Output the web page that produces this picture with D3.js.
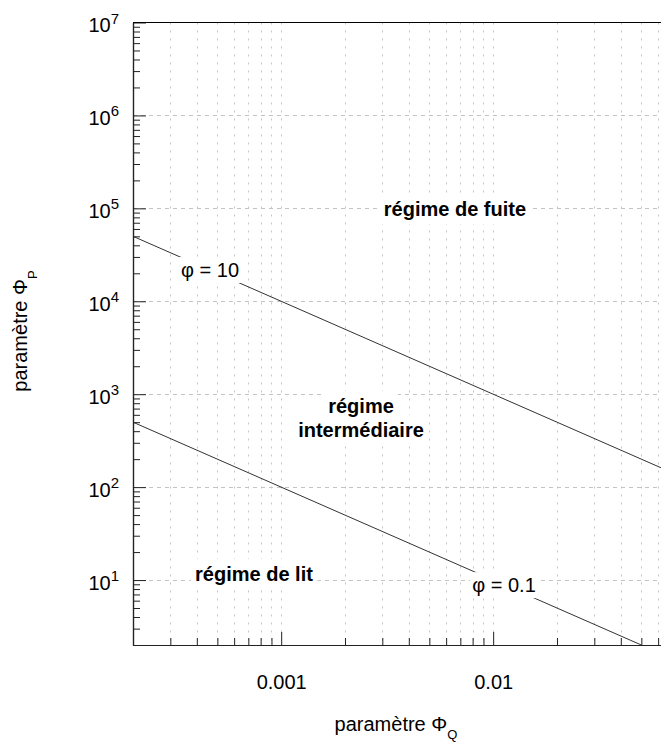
<!DOCTYPE html>
<html><head><meta charset="utf-8">
<script src="https://cdn.jsdelivr.net/npm/d3@7/dist/d3.min.js"></script>
<style>
body{margin:0;background:#fff}
svg{display:block}
text{font-family:"Liberation Sans",Arial,Helvetica,sans-serif;fill:#000}
</style>
</head><body>
<svg id="c" width="661" height="744"></svg>
<script>
// ---- data ----
const lineQ = [0.0002, 0.1];          // Φ_Q end points of the two lines
const phi10P = [50000, 100];          // Φ_P for φ = 10
const phi01P = [500, 1];              // Φ_P for φ = 0.1
const curveNames = ["φ = 10", "φ = 0.1"];
const curveLabelQ = [0.000462, 0.01125];
const curveLabelP = [18220, 7.41];
const xMajorTicks = [0.001, 0.01];
const xTickLabels = ["0.001", "0.01"];
const yMajorTicks = [10, 100, 1e3, 1e4, 1e5, 1e6, 1e7];
const yTickExponents = ["1", "2", "3", "4", "5", "6", "7"];
const regionLines = [["régime de fuite"], ["régime", "intermédiaire"], ["régime de lit"]];
const regionQ = [0.0066, 0.00238, 0.000744];
const regionP = [82600, 626, 9.73];
const xTitle = "paramètre Φ", xSub = "Q";
const yTitle = "paramètre Φ", ySub = "P";

// ---- layout ----
const L = 133, T = 22.5, B = 645, R = 661;
const x = d3.scaleLog().domain([2e-4, 0.0619]).range([L, R]);
const y = d3.scaleLog().domain([2, 1e7]).range([B, T]);
const svg = d3.select("#c");

svg.append("defs").append("clipPath").attr("id", "clip")
  .append("rect").attr("x", L).attr("y", T).attr("width", R - L).attr("height", B - T);

const xAll = x.ticks().filter(v => v > 2.0001e-4 && v <= 0.0619);
const xMinor = xAll.filter(v => !xMajorTicks.some(m => Math.abs(m - v) / m < 1e-6));
const yAll = y.ticks().filter(v => v >= 2 && v <= 1e7);
const yMinor = yAll.filter(v => !yMajorTicks.some(m => Math.abs(m - v) / m < 1e-6));

// grid
const grid = svg.append("g");
grid.selectAll("line.v").data(xAll).join("line")
  .attr("x1", d => Math.round(x(d)) + 0.5).attr("x2", d => Math.round(x(d)) + 0.5)
  .attr("y1", T).attr("y2", B)
  .attr("stroke", "#c4c4c4").attr("stroke-width", 1).attr("stroke-dasharray", "2,6");
grid.selectAll("line.h").data(yMajorTicks.filter(v => v < 1e7)).join("line")
  .attr("x1", L).attr("x2", R)
  .attr("y1", d => Math.round(y(d)) + 0.5).attr("y2", d => Math.round(y(d)) + 0.5)
  .attr("stroke", "#c4c4c4").attr("stroke-width", 1).attr("stroke-dasharray", "4,4");

// curves
const line = d3.line().x(d => x(d[0])).y(d => y(d[1]));
const curves = [phi10P, phi01P].map(p => lineQ.map((q, i) => [q, p[i]]));
svg.append("g").attr("clip-path", "url(#clip)")
  .selectAll("path").data(curves).join("path")
  .attr("d", line).attr("fill", "none").attr("stroke", "#333").attr("stroke-width", 1);

// label helper with white background
function boxedText(g, tx, ty, str, size, weight, pad) {
  const t = g.append("text").attr("x", tx).attr("y", ty).attr("text-anchor", "middle")
    .attr("font-size", size).attr("font-weight", weight).text(str);
  const bb = t.node().getBBox();
  g.insert("rect", "text").attr("x", bb.x - pad).attr("y", bb.y - pad)
    .attr("width", bb.width + 2 * pad).attr("height", bb.height + 2 * pad).attr("fill", "#fff");
  return t;
}

// curve labels
curveNames.forEach((n, i) => {
  const g = svg.append("g");
  boxedText(g, x(curveLabelQ[i]), y(curveLabelP[i]), n, 20, "normal", 2);
});

// region labels
regionLines.forEach((lines, i) => {
  const g = svg.append("g");
  lines.forEach((s, j) => {
    const by = y(regionP[i]) + (lines.length > 1 ? (j === 0 ? 0 : 24) : 0);
    boxedText(g, x(regionQ[i]), by, s, 20, "bold", 4);
  });
});

// axes
const ax = svg.append("g");
ax.append("g").attr("transform", `translate(0,${B})`)
  .call(d3.axisBottom(x).tickValues(xMinor).tickSize(-7).tickSizeOuter(0).tickFormat(""));
ax.append("g").attr("transform", `translate(0,${B})`)
  .call(d3.axisBottom(x).tickValues(xMajorTicks).tickSize(-13).tickSizeOuter(0)
    .tickFormat((d, i) => xTickLabels[i]).tickPadding(30))
  .call(g => g.selectAll("text").attr("font-size", 20).attr("fill", "#000")
    .attr("font-family", "Liberation Sans, Arial, sans-serif"));
ax.append("g").attr("transform", `translate(${L},0)`)
  .call(d3.axisLeft(y).tickValues(yMinor).tickSize(-7).tickSizeOuter(0).tickFormat(""));
ax.append("g").attr("transform", `translate(${L},0)`)
  .call(d3.axisLeft(y).tickValues(yMajorTicks).tickSize(-13).tickSizeOuter(0).tickFormat(""));
ax.selectAll(".domain").attr("stroke", "#222").attr("stroke-width", 1.2);
ax.selectAll(".tick line").attr("stroke", "#222").attr("stroke-width", 1);
// top border
svg.append("line").attr("x1", L).attr("x2", R).attr("y1", T).attr("y2", T)
  .attr("stroke", "#000").attr("stroke-width", 1.2);

// y tick labels (10^n)
yMajorTicks.forEach((v, i) => {
  const t = svg.append("text").attr("x", 88.5).attr("y", y(v) + 9.5).attr("font-size", 20);
  t.append("tspan").text("10");
  t.append("tspan").attr("font-size", 15).attr("dy", -8.5).text(yTickExponents[i]);
});

// axis titles
const xt = svg.append("text").attr("x", 396).attr("y", 731).attr("text-anchor", "middle").attr("font-size", 20);
xt.append("tspan").text(xTitle);
xt.append("tspan").attr("font-size", 13).attr("dy", 8).text(xSub);

const yt = svg.append("text").attr("transform", "translate(27,331) rotate(-90)")
  .attr("text-anchor", "middle").attr("font-size", 20);
yt.append("tspan").text(yTitle);
yt.append("tspan").attr("font-size", 13).attr("dy", 10).text(ySub);
</script>
</body></html>
